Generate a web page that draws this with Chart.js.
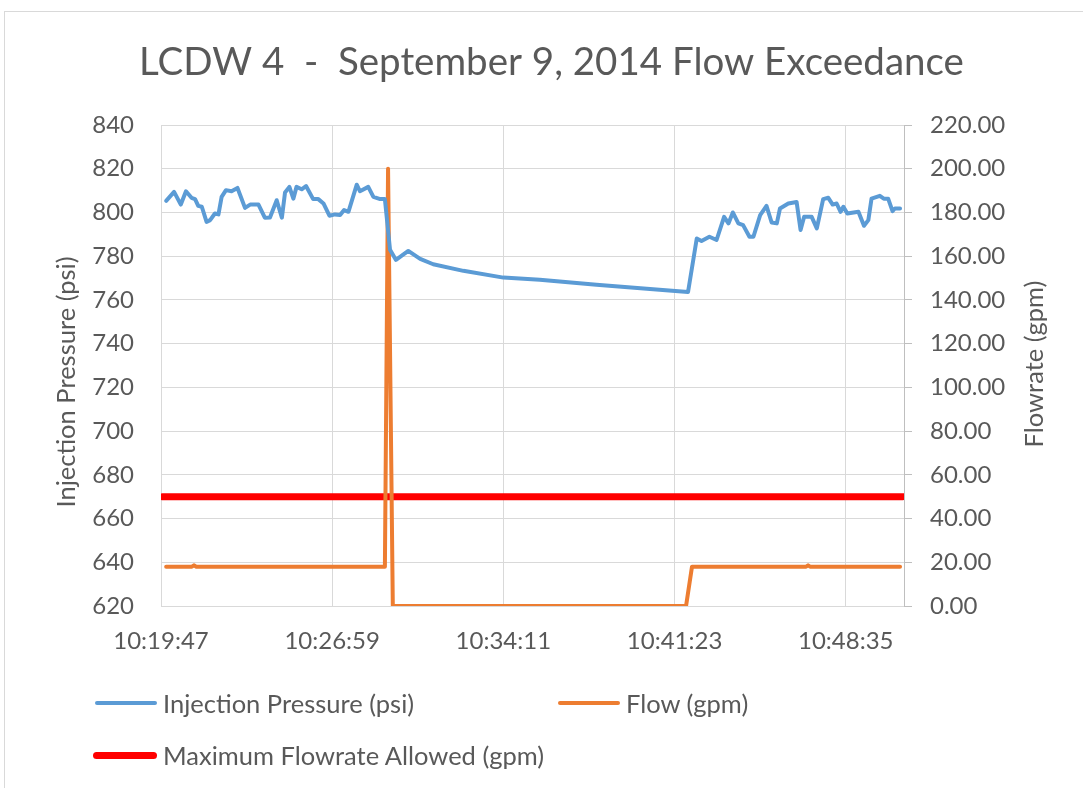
<!DOCTYPE html>
<html>
<head>
<meta charset="utf-8">
<script src="https://cdn.jsdelivr.net/npm/chart.js@4"></script>
<style>
  html, body { margin: 0; padding: 0; background: #fff; overflow: hidden; }
  #wrap { position: relative; width: 1083px; height: 788px; }
  #frame { position: absolute; left: 4px; top: 11px; width: 1200px; height: 900px; border: 1px solid #d9d9d9; }
  canvas { position: absolute; left: 0; top: 0; }
  .legend-item { position: absolute; font-family: Lato, sans-serif; font-size: 25.5px; color: #595959; white-space: nowrap; }
  .legend-item .swatch { position: absolute; border-radius: 4px; }
</style>
</head>
<body>
<div id="wrap">
  <div id="frame"></div>
  <canvas id="chart" width="1083" height="788"></canvas>
</div>
<script>
// seconds after 10:19:47
const pressureTimes = [13, 33, 50, 63, 77, 86, 94, 103, 115, 124, 136, 145, 153, 164, 178, 193, 212, 225, 246, 262,
  275, 292, 305, 313, 324, 334, 342, 355, 366, 384, 397, 410, 425, 439, 452, 462, 473, 494, 502, 523,
  536, 553, 565, 578, 593, 624, 654, 687, 763, 864, 956, 1099, 1226, 1330, 1352, 1364, 1384, 1402, 1421, 1432,
  1443, 1457, 1469, 1485, 1495, 1512, 1528, 1541, 1554, 1562, 1583, 1604, 1614, 1623, 1642, 1655, 1671, 1684, 1695, 1705,
  1715, 1722, 1732, 1760, 1774, 1785, 1793, 1814, 1824, 1835, 1846, 1852, 1865];
const pressureValues = [805.3, 809.4, 803.6, 809.7, 806.7, 806.1, 803.0, 802.6, 795.7, 796.5, 799.5, 799.1, 807.1, 810.2, 809.7, 811.2, 802.1, 803.6, 803.6, 797.6,
  797.7, 805.6, 797.6, 809.1, 811.7, 806.3, 811.7, 810.6, 812.1, 806.1, 806.1, 804.1, 798.5, 799.1, 798.8, 801.1, 800.3, 812.7, 809.7, 811.7,
  807.1, 806.1, 806.1, 782.9, 778.3, 782.4, 778.8, 776.3, 773.3, 770.2, 769.2, 766.9, 765.1, 763.6, 788.1, 786.9, 788.9, 787.4, 798.0, 795.0,
  800.0, 795.0, 794.2, 788.9, 788.9, 798.8, 803.0, 795.4, 795.0, 801.8, 804.1, 804.8, 792.0, 798.0, 798.0, 792.7, 806.1, 806.7, 803.6, 804.1,
  800.3, 802.6, 799.5, 800.3, 793.9, 796.5, 806.3, 807.6, 806.3, 806.3, 800.6, 801.8, 801.8];

const flowTimes = [13, 78, 83, 89, 565, 573, 585, 1325, 1340, 1628, 1633, 1638, 1865];
const flowValues = [18, 18, 18.6, 18, 18, 200, 0, 0, 18, 18, 18.6, 18, 18];

const maxFlowTimes = [4, 1872];
const maxFlowValues = [50, 50];

const tickSeconds = [0, 432, 864, 1296, 1728];
const tickLabels = ["10:19:47", "10:26:59", "10:34:11", "10:41:23", "10:48:35"];

const textColor = "#595959";
const font = { family: "Lato", size: 24 };

const toPoints = (xs, ys) => xs.map((x, i) => ({ x: x, y: ys[i] }));

// axis titles drawn by hand: both read bottom-to-top as in the original
const axisTitles = {
  id: "axisTitles",
  afterDraw(chart) {
    const c = chart.ctx;
    c.save();
    c.fillStyle = textColor;
    c.font = "25.5px Lato";
    c.textAlign = "center";
    c.textBaseline = "alphabetic";
    [["Injection Pressure (psi)", 75, 382], ["Flowrate (gpm)", 1043, 364]].forEach(([txt, x, y]) => {
      c.save();
      c.translate(x, y);
      c.rotate(-Math.PI / 2);
      c.fillText(txt, 0, 0);
      c.restore();
    });
    c.restore();
  }
};

const chart = new Chart(document.getElementById("chart"), {
  type: "line",
  data: {
    datasets: [
      {
        label: "Injection Pressure (psi)",
        data: toPoints(pressureTimes, pressureValues),
        borderColor: "#5b9bd5",
        borderWidth: 4,
        yAxisID: "y"
      },
      {
        label: "Flow (gpm)",
        data: toPoints(flowTimes, flowValues),
        borderColor: "#ed7d31",
        borderWidth: 4,
        yAxisID: "y1"
      },
      {
        label: "Maximum Flowrate Allowed (gpm)",
        data: toPoints(maxFlowTimes, maxFlowValues),
        borderColor: "#ff0000",
        borderWidth: 7,
        yAxisID: "y1"
      }
    ]
  },
  options: {
    responsive: false,
    animation: false,
    layout: { padding: { left: 20, top: 0, right: 0, bottom: 122 } },
    elements: {
      point: { radius: 0 },
      line: { tension: 0, borderJoinStyle: "round", borderCapStyle: "round" }
    },
    plugins: {
      legend: { display: false },
      tooltip: { enabled: false },
      title: {
        display: true,
        text: "LCDW 4  -  September 9, 2014 Flow Exceedance",
        color: textColor,
        font: { family: "Lato", size: 38.5, weight: "normal" },
        padding: { top: 39, bottom: 39.8 }
      }
    },
    scales: {
      x: {
        type: "linear",
        min: 0,
        max: 1875,
        afterBuildTicks: s => { s.ticks = tickSeconds.map(v => ({ value: v })); },
        afterFit: s => { s.height = 60; },
        ticks: {
          callback: (v, i) => tickLabels[i],
          color: textColor,
          font: font,
          padding: 21,
          maxRotation: 0,
          autoSkip: false
        },
        grid: { color: "#d9d9d9", drawTicks: false },
        border: { color: "#d9d9d9" }
      },
      y: {
        position: "left",
        min: 620,
        max: 840,
        afterFit: s => { s.width = 141; },
        ticks: { stepSize: 20, color: textColor, font: font, padding: 27 },
        grid: { color: "#d9d9d9", drawTicks: false },
        border: { color: "#d9d9d9" }
      },
      y1: {
        position: "right",
        min: 0,
        max: 220,
        afterFit: s => { s.width = 179; },
        ticks: { stepSize: 20, color: textColor, font: font, padding: 18, callback: v => v.toFixed(2) },
        grid: { drawOnChartArea: false, tickLength: 8, color: "#bfbfbf" },
        border: { color: "#bfbfbf" }
      }
    }
  },
  plugins: [axisTitles]
});

// legend laid out like the original: two columns, two rows
const legendSpots = [
  { x: 95, y: 703, w: 62 },
  { x: 558, y: 703, w: 62 },
  { x: 93, y: 755, w: 64 }
];
chart.data.datasets.forEach((ds, i) => {
  const spot = legendSpots[i];
  const item = document.createElement("div");
  item.className = "legend-item";
  item.style.left = (spot.x + spot.w + 6) + "px";
  item.style.top = (spot.y - 15) + "px";
  item.style.lineHeight = "30px";
  item.textContent = ds.label;
  const sw = document.createElement("span");
  sw.className = "swatch";
  sw.style.background = ds.borderColor;
  sw.style.width = spot.w + "px";
  sw.style.height = ds.borderWidth + "px";
  sw.style.left = -(spot.w + 6) + "px";
  sw.style.top = (15 - ds.borderWidth / 2) + "px";
  item.appendChild(sw);
  document.getElementById("wrap").appendChild(item);
});
</script>
</body>
</html>
